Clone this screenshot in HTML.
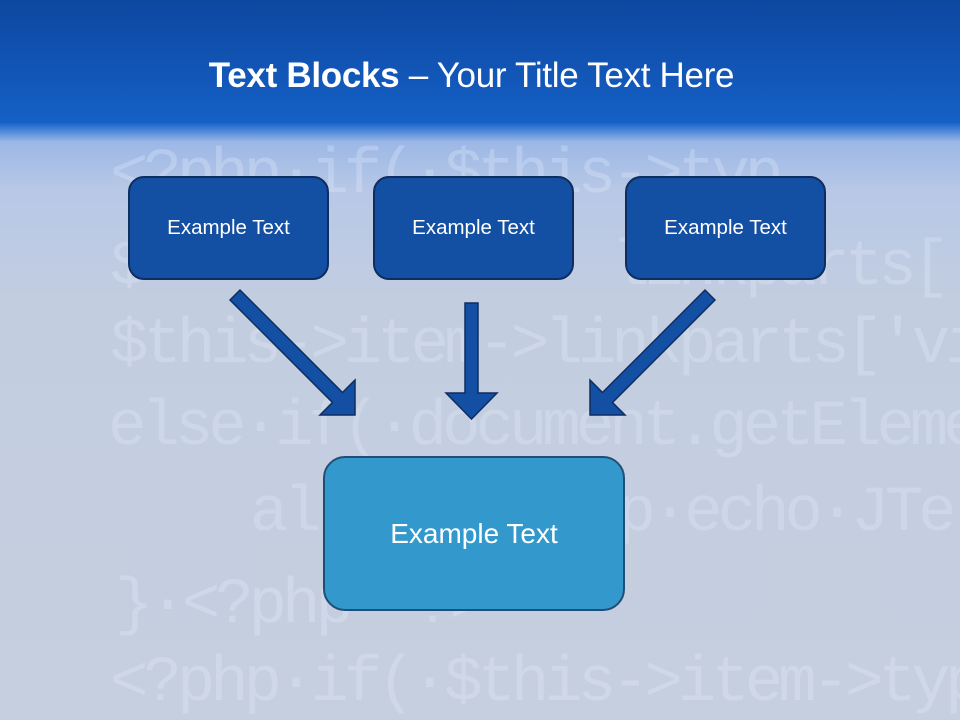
<!DOCTYPE html>
<html><head><meta charset="utf-8"><style>
body{margin:0;width:960px;height:720px;overflow:hidden;font-family:"Liberation Sans",sans-serif}
#bg{position:absolute;left:0;top:0;width:960px;height:720px;background:linear-gradient(180deg,#0d47a0 0px,#1560c6 122px,#3a7ad4 128px,#9cb8e6 142px,#b8c8e6 190px,#c2cde0 300px,#c6cfdf 720px)}
.code{position:absolute;left:110px;font-family:"Liberation Mono",monospace;font-size:64px;color:rgba(235,242,255,.28);white-space:pre;letter-spacing:-5px}
.title{position:absolute;top:56px;left:0;width:943px;text-align:center;color:#fff;font-size:35px;letter-spacing:-0.3px}
.box{position:absolute;box-sizing:border-box;background:#134fa2;border:2px solid #0f2d60;border-radius:16px;color:#fff;display:flex;align-items:center;justify-content:center;font-size:20.5px}
</style></head><body>
<div id="bg"></div>
<div class="code" style="top:140px">&lt;?php·if(·$this-&gt;typ</div>
<div class="code" style="top:232px">$    &gt;         linkparts['op</div>
<div class="code" style="top:310px">$this-&gt;item-&gt;linkparts['vi</div>
<div class="code" style="top:392px;left:108px">else·if(·document.getEleme</div>
<div class="code" style="top:478px;left:250px">al        hp·echo·JTe</div>
<div class="code" style="top:570px;left:115px">}·&lt;?php  ?&gt;</div>
<div class="code" style="top:648px;left:110px">&lt;?php·if(·$this-&gt;item-&gt;typ</div>
<div class="title"><b>Text Blocks</b> – Your Title Text Here</div>
<div class="box" style="left:128px;top:176px;width:201px;height:104px">Example Text</div>
<div class="box" style="left:373px;top:176px;width:201px;height:104px">Example Text</div>
<div class="box" style="left:625px;top:176px;width:201px;height:104px">Example Text</div>
<svg width="960" height="720" style="position:absolute;left:0;top:0">
<g fill="#134fa2" stroke="#0f2d60" stroke-width="1.5">
<polygon points="230,300 240,290 342.5,392.5 355,380 355,415 320,415 332.5,402.5"/>
<polygon points="715,300 705,290 602.5,392.5 590,380 590,415 625,415 612.5,402.5"/>
<polygon points="465,303 478,303 478,393 497,393 471.5,419 446,393 465,393"/>
</g></svg>
<div class="box" style="left:323px;top:456px;width:302px;height:155px;background:#3399cc;border-color:#1f4e79;border-radius:22px;font-size:28px">Example Text</div>
</body></html>
